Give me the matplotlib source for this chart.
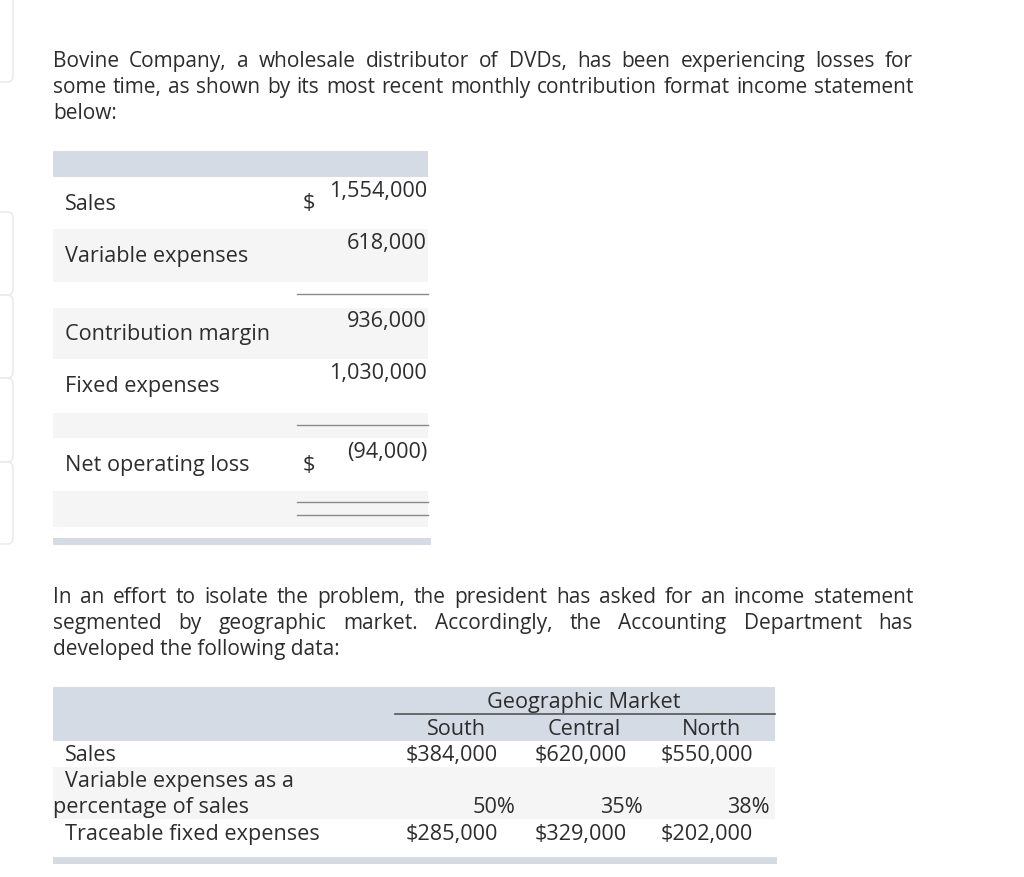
import matplotlib
matplotlib.use("Agg")
import matplotlib.pyplot as plt
from matplotlib.patches import Rectangle, FancyBboxPatch

plt.rcParams['font.family'] = ['Open Sans', 'DejaVu Sans']

# ---- data ----
intro_lines = ["Bovine Company, a wholesale distributor of DVDs, has been experiencing losses for",
               "some time, as shown by its most recent monthly contribution format income statement",
               "below:"]
middle_lines = ["In an effort to isolate the problem, the president has asked for an income statement",
                "segmented by geographic market. Accordingly, the Accounting Department has",
                "developed the following data:"]
stmt_labels = ['Sales', 'Variable expenses', 'Contribution margin', 'Fixed expenses', 'Net operating loss']
stmt_values = ['1,554,000', '618,000', '936,000', '1,030,000', '(94,000)']
markets = ['South', 'Central', 'North']
market_sales = [384000, 620000, 550000]
var_pct = [50, 35, 38]
traceable_fixed = [285000, 329000, 202000]

TXT = '#2d2d2d'
HEAD = '#d5dbe4'
ROW = '#f5f5f5'
LINE = '#8a8a8a'

fig = plt.figure(figsize=(10.24, 8.77), dpi=100)
ax = fig.add_axes([0, 0, 1, 1])
ax.set_xlim(0, 1024)
ax.set_ylim(877, 0)
ax.axis('off')
renderer = fig.canvas.get_renderer()


def fit_size(sample, target):
    # pick the font size that gives the sample string the width seen in the picture
    t = ax.text(0, 0, sample, fontsize=10)
    w = t.get_window_extent(renderer).width
    t.remove()
    return 10 * target / w


FS = fit_size(intro_lines[1], 848)
FS1 = fit_size('Variable expenses', 183)
FS2 = fit_size('Traceable fixed expenses', 253)


def justified(line, x0, x1, y, justify=True):
    words = line.split(' ')
    if not justify:
        ax.text(x0, y, line, fontsize=FS, color=TXT, va='baseline', ha='left')
        return
    arts = [ax.text(0, y, w, fontsize=FS, color=TXT, va='baseline', ha='left') for w in words]
    widths = [a.get_window_extent(renderer).width for a in arts]
    gap = (x1 - x0 - sum(widths)) / (len(words) - 1)
    x = x0
    for a, w in zip(arts, widths):
        a.set_x(x)
        x += w + gap


# faint page-side boxes on the left edge
for top, bot in [(-20, 82), (212, 295), (295, 378), (378, 462), (462, 544)]:
    ax.add_patch(FancyBboxPatch((-20, top), 33, bot - top, boxstyle="round,pad=0,rounding_size=6",
                                fc='white', ec='#ebebeb', lw=1.2))

for i, ln in enumerate(intro_lines):
    justified(ln, 53, 913, 67 + 26 * i, justify=(i < 2))
for i, ln in enumerate(middle_lines):
    justified(ln, 53, 913, 603 + 26 * i, justify=(i < 2))

# ---- table 1: income statement ----
ax.add_patch(Rectangle((53, 151), 375, 26, fc=HEAD, ec='none'))
bands = [(229, 282), (308, 359), (413, 438), (491, 527)]
for t, b in bands:
    ax.add_patch(Rectangle((53, t), 375, b - t, fc=ROW, ec='none'))
ax.add_patch(Rectangle((53, 538), 378, 7, fc=HEAD, ec='none'))

label_base = [210, 262, 340, 392, 471]
value_base = [197, 249, 327, 379, 458]
for lab, val, yl, yv in zip(stmt_labels, stmt_values, label_base, value_base):
    ax.text(65, yl, lab, fontsize=FS1, color=TXT, va='baseline')
    ax.text(427, yv, val, fontsize=FS1, color=TXT, va='baseline', ha='right')
ax.text(309, 209, '$', fontsize=FS1, color=TXT, va='baseline', ha='center')
ax.text(309, 471, '$', fontsize=FS1, color=TXT, va='baseline', ha='center')
for yy in [294, 425, 502, 515]:
    ax.plot([297, 428], [yy, yy], color=LINE, lw=1)

# ---- table 2: geographic market data ----
ax.add_patch(Rectangle((53, 687), 722, 54, fc=HEAD, ec='none'))
ax.add_patch(Rectangle((53, 767), 722, 52, fc=ROW, ec='none'))
ax.add_patch(Rectangle((53, 857), 724, 7, fc=HEAD, ec='none'))
ax.plot([395, 775], [713.5, 713.5], color='#555555', lw=1.2)

ax.text(584, 708, 'Geographic Market', fontsize=FS2, color=TXT, va='baseline', ha='center')
col_c = [456, 584, 711]
val_r = [498, 627, 753]
pct_r = [515, 643, 770]
for c, m in zip(col_c, markets):
    ax.text(c, 735, m, fontsize=FS2, color=TXT, va='baseline', ha='center')
for r, v in zip(val_r, market_sales):
    ax.text(r, 761, '${:,}'.format(v), fontsize=FS2, color=TXT, va='baseline', ha='right')
for r, p in zip(pct_r, var_pct):
    ax.text(r, 813, '{}%'.format(p), fontsize=FS2, color=TXT, va='baseline', ha='right')
for r, v in zip(val_r, traceable_fixed):
    ax.text(r, 840, '${:,}'.format(v), fontsize=FS2, color=TXT, va='baseline', ha='right')

ax.text(65, 761, 'Sales', fontsize=FS2, color=TXT, va='baseline')
ax.text(65, 787, 'Variable expenses as a', fontsize=FS2, color=TXT, va='baseline')
ax.text(53, 813, 'percentage of sales', fontsize=FS2, color=TXT, va='baseline')
ax.text(65, 840, 'Traceable fixed expenses', fontsize=FS2, color=TXT, va='baseline')

fig.savefig('out.png', dpi=100)
